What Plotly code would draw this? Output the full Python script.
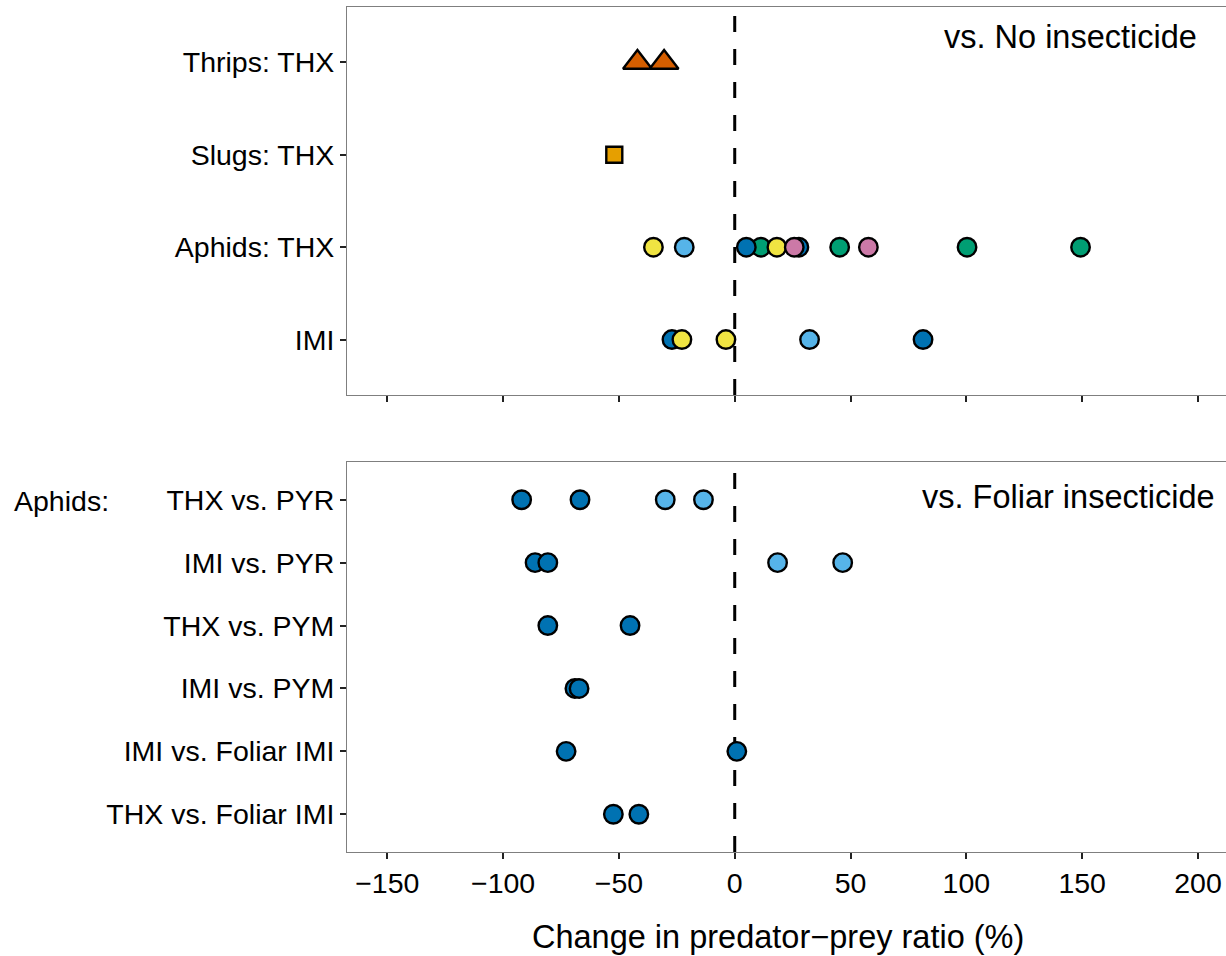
import plotly.graph_objects as go

# ---------------- data ----------------
top_categories = ["IMI", "Aphids: THX", "Slugs: THX", "Thrips: THX"]
bottom_categories = ["THX vs. Foliar IMI", "IMI vs. Foliar IMI", "IMI vs. PYM",
                     "THX vs. PYM", "IMI vs. PYR", "THX vs. PYR"]
x_ticks = [-150, -100, -50, 0, 50, 100, 150, 200]

# top panel (vs. No insecticide)
green_x = [11.3, 45.3, 100.3, 149.3]
green_y = ["Aphids: THX", "Aphids: THX", "Aphids: THX", "Aphids: THX"]
darkblue_top_x = [-27.1, 81.3, 5.0, 27.7]
darkblue_top_y = ["IMI", "IMI", "Aphids: THX", "Aphids: THX"]
lightblue_top_x = [32.3, -21.8]
lightblue_top_y = ["IMI", "Aphids: THX"]
yellow_x = [-22.8, -3.8, -35.1, 18.2]
yellow_y = ["IMI", "IMI", "Aphids: THX", "Aphids: THX"]
pink_x = [25.7, 57.7]
pink_y = ["Aphids: THX", "Aphids: THX"]
slugs_x = [-52.0]
slugs_y = ["Slugs: THX"]
thrips_x = [-42.0, -30.5]
thrips_y = ["Thrips: THX", "Thrips: THX"]

# bottom panel (vs. Foliar insecticide)
darkblue_bot_x = [-92.0, -66.8, -86.2, -80.7, -80.7, -45.2, -69.0, -67.2, -72.8, 0.9, -52.4, -41.4]
darkblue_bot_y = ["THX vs. PYR", "THX vs. PYR", "IMI vs. PYR", "IMI vs. PYR",
                  "THX vs. PYM", "THX vs. PYM", "IMI vs. PYM", "IMI vs. PYM",
                  "IMI vs. Foliar IMI", "IMI vs. Foliar IMI",
                  "THX vs. Foliar IMI", "THX vs. Foliar IMI"]
lightblue_bot_x = [-30.0, -13.5, 18.5, 46.6]
lightblue_bot_y = ["THX vs. PYR", "THX vs. PYR", "IMI vs. PYR", "IMI vs. PYR"]

# ---------------- style ----------------
FONT = "Liberation Sans, Arial, Helvetica, sans-serif"
C_DB, C_LB, C_GR, C_YE, C_PK, C_OR, C_VM = ("#0072B2", "#56B4E9", "#009E73", "#F0E442",
                                             "#CC79A7", "#E69F00", "#D55E00")
W, H = 1226, 956
L, R, T, B = 347, 0, 7, 104
XR = [-167.4, 212.1]
TICK_FS = 28.5

fig = go.Figure()


def add(xs, ys, color, axis, symbol="circle", size=18.5):
    fig.add_trace(go.Scatter(
        x=xs, y=ys, mode="markers",
        xaxis="x" if axis == 1 else "x2", yaxis="y" if axis == 1 else "y2",
        marker=dict(color=color, size=size, symbol=symbol,
                    line=dict(color="black", width=2.4)),
        showlegend=False, hoverinfo="x+y"))


add(green_x, green_y, C_GR, 1)
add(darkblue_top_x, darkblue_top_y, C_DB, 1)
add(lightblue_top_x, lightblue_top_y, C_LB, 1)
add(yellow_x, yellow_y, C_YE, 1)
add(pink_x, pink_y, C_PK, 1)
add(slugs_x, slugs_y, C_OR, 1, symbol="square", size=16)
add(thrips_x, thrips_y, C_VM, 1, symbol="triangle-up", size=25)

add(darkblue_bot_x, darkblue_bot_y, C_DB, 2)
add(lightblue_bot_x, lightblue_bot_y, C_LB, 2)

plot_h = H - T - B
top_dom = [(852 - 395) / plot_h, 1.0]
bot_dom = [0.0, (852 - 462) / plot_h]

xcommon = dict(range=XR, tickvals=x_ticks, showgrid=False, zeroline=False,
               showline=True, linecolor="#7f7f7f", linewidth=1, mirror=True,
               ticks="outside", ticklen=6, tickwidth=1.5, tickcolor="#222222",
               tickfont=dict(family=FONT, size=TICK_FS, color="black"))
ycommon = dict(showgrid=False, zeroline=False, showline=True, linecolor="#7f7f7f",
               linewidth=1, ticks="outside", ticklen=6, tickwidth=1.5,
               tickcolor="#222222",
               tickfont=dict(family=FONT, size=TICK_FS, color="black"))

fig.update_layout(
    width=W, height=H,
    margin=dict(l=L, r=R, t=T, b=B, pad=0),
    paper_bgcolor="white", plot_bgcolor="white",
    xaxis=dict(domain=[0, 1], anchor="y", showticklabels=False, **xcommon),
    xaxis2=dict(domain=[0, 1], anchor="y2", tickformat="d", **xcommon),
    yaxis=dict(domain=top_dom, anchor="x", range=[-0.6, 3.6], **ycommon,
               type="category", categoryorder="array", categoryarray=top_categories),
    yaxis2=dict(domain=bot_dom, anchor="x2", range=[-0.6, 5.6], **ycommon,
                type="category", categoryorder="array", categoryarray=bottom_categories),
)

# vertical dashed reference lines at 0
for xr_, yr_ in (("x", "y domain"), ("x2", "y2 domain")):
    fig.add_shape(type="line", xref=xr_, yref=yr_, x0=0, x1=0, y0=0, y1=1,
                  line=dict(color="black", width=3, dash="16px,17px"), layer="below")


def px_x(p):
    return (p - L) / (W - L - R)


def px_y(p):
    return (H - B - p) / plot_h


fig.add_annotation(text="vs. No insecticide", xref="paper", yref="paper",
                   x=px_x(1199), y=px_y(37), xanchor="right", yanchor="middle",
                   showarrow=False, font=dict(family=FONT, size=32.5, color="black"))
fig.add_annotation(text="vs. Foliar insecticide", xref="paper", yref="paper",
                   x=px_x(1217), y=px_y(497), xanchor="right", yanchor="middle",
                   showarrow=False, font=dict(family=FONT, size=32.5, color="black"))
fig.add_annotation(text="Aphids:", xref="paper", yref="paper",
                   x=px_x(12), y=px_y(501), xanchor="left", yanchor="middle",
                   showarrow=False, font=dict(family=FONT, size=28.5, color="black"))
fig.add_annotation(text="Change in predator\u2212prey ratio (%)", xref="paper", yref="paper",
                   x=px_x(778), y=px_y(937), xanchor="center", yanchor="middle",
                   showarrow=False, font=dict(family=FONT, size=32.5, color="black"))

fig.write_html("out.html", config={"displayModeBar": False},
               post_script="document.body.style.margin='0';document.body.style.padding='0';")
